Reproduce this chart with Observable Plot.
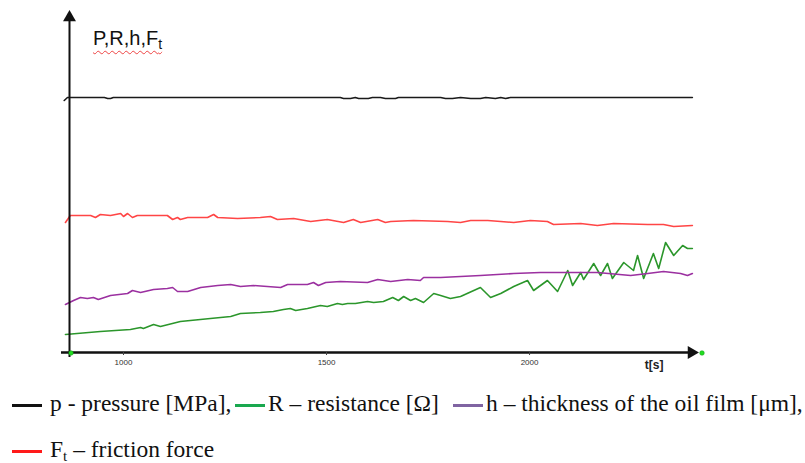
<!DOCTYPE html>
<html><head><meta charset="utf-8">
<script src="https://cdn.jsdelivr.net/npm/d3@7"></script>
<script src="https://cdn.jsdelivr.net/npm/@observablehq/plot@0.6"></script>
<style>
body{margin:0;background:#fff;}
#wrap{position:relative;width:805px;height:463px;overflow:hidden;background:#fff;}
#chart{position:absolute;left:0;top:0;}
#ylab{position:absolute;left:93px;top:27px;font:20px "Liberation Sans",Arial,sans-serif;color:#111;text-decoration:underline wavy #e44;text-decoration-thickness:1px;text-underline-offset:5px;white-space:nowrap;}
#ylab .s{font-size:14px;vertical-align:-4px;}
.leg{position:absolute;font:23.5px/24px "Liberation Serif","Times New Roman",serif;color:#111;white-space:nowrap;}
.sw{display:inline-block;width:30px;height:3px;vertical-align:middle;margin-right:7px;}
.leg .s{font-size:15px;line-height:15px;vertical-align:-4px;}
</style></head>
<body><div id="wrap"><div id="chart"></div>
<div id="ylab">P,R,h,F<span class="s">t</span></div>
</div>
<script>
// ---- data (time in s, value in arbitrary chart units) ----
const pT = [854,862,953,961,968,975,1534,1542,1559,1571,1579,1603,1613,1633,1645,1670,1677,1781,1793,1810,1830,1855,1879,1892,1916,1929,1941,1953,2401];
const pV = [252,255,255,254,254,255,255,254,254,255,254,254,255,255,254,254,255,255,254,254,255,254,254,255,254,255,254,255,255];

const fT = [857,869,919,931,943,968,993,1000,1010,1022,1034,1108,1121,1133,1140,1158,1207,1222,1232,1281,1337,1362,1379,1419,1461,1502,1542,1566,1584,1626,1645,1658,1714,1798,1830,1855,1897,1929,1961,2002,2044,2059,2126,2167,2207,2291,2330,2355,2401];
const fV = [130,137,137,135,138,137,139,136,139,135,137,137,133,135,133,135,135,138,135,134,135,136,133,134,131,133,130,133,130,133,130,131,132,131,130,132,132,131,130,132,131,128,129,127,129,128,128,126,127];

const hT = [857,877,894,911,926,938,968,1010,1022,1042,1074,1108,1121,1133,1158,1190,1232,1264,1288,1320,1387,1404,1453,1468,1480,1498,1534,1601,1626,1658,1700,1731,1739,1781,1879,1961,2027,2094,2167,2249,2291,2330,2372,2389,2401];
const hV = [48,52,55,54,55,53,57,59,62,60,63,64,65,61,61,65,67,68,66,67,65,68,68,70,67,70,71,70,73,71,73,72,75,75,77,79,80,80,80,77,79,81,79,77,79];

const rT = [857,943,1017,1042,1049,1074,1091,1140,1214,1264,1288,1337,1369,1394,1411,1424,1453,1485,1502,1527,1539,1552,1571,1601,1616,1640,1663,1677,1690,1707,1719,1739,1764,1781,1805,1830,1879,1904,1929,1961,1995,2010,2027,2044,2069,2094,2106,2126,2133,2158,2175,2192,2204,2232,2256,2266,2281,2305,2318,2335,2355,2377,2389,2401];
const rV = [18,21,23,25,24,28,26,31,34,36,39,40,41,43,44,42,44,47,46,49,48,49,49,51,50,51,55,52,56,52,54,50,59,57,54,56,65,55,59,66,72,62,67,72,61,82,67,80,73,89,77,89,74,90,82,97,74,99,84,110,97,107,104,104];

const xTicks = [1000, 1500, 2000];
const xDomain = [867, 2421];
const yDomain = [0, 340];

const legendLabels = ["p - pressure [MPa],", "R \u2013 resistance [\u03A9]", "h \u2013 thickness of the oil film [\u03BCm],", "F|t| \u2013 friction force"];
const legendColors = ["#111111", "#1aa84f", "#8064a2", "#ff1a1a"];
const lineColors = ["#1a1a1a", "#2b962b", "#9b30a0", "#ff4545"];

// ---- build ----
const toRows = (T, V) => T.map((t, i) => ({t, v: V[i]}));
const series = [toRows(pT, pV), toRows(rT, rV), toRows(hT, hV), toRows(fT, fV)];

const axisCol = "#111";
const chart = Plot.plot({
  width: 805, height: 375,
  marginLeft: 69, marginRight: 105, marginTop: 12, marginBottom: 23,
  x: {domain: xDomain, axis: null},
  y: {domain: yDomain, axis: null},
  style: {background: "transparent", overflow: "visible"},
  marks: [
    ...series.map((s, i) => Plot.line(s, {x: "t", y: "v", stroke: lineColors[i], strokeWidth: 1.6, strokeLinejoin: "round"})),
    Plot.ruleX([{x: xDomain[0], y1: yDomain[0], y2: yDomain[1]}], {x: "x", y1: "y1", y2: "y2", stroke: axisCol, strokeWidth: 2, dy: 5}),
    Plot.ruleY([{y: yDomain[0], x1: xDomain[0], x2: xDomain[1]}], {y: "y", x1: "x1", x2: "x2", stroke: axisCol, strokeWidth: 2.5, dx: -8}),
    Plot.dot([{x: xDomain[0], y: yDomain[1]}], {x: "x", y: "y", symbol: "triangle", r: 4.8, fill: axisCol, dy: 5}),
    Plot.dot([{x: xDomain[1], y: yDomain[0]}], {x: "x", y: "y", symbol: "triangle", r: 4.8, fill: axisCol, rotate: 90, dx: -9}),
    Plot.dot([{x: xDomain[0], y: yDomain[0]}, {x: xDomain[1], y: yDomain[0]}], {x: "x", y: "y", r: 2.3, fill: "#22dd22", stroke: "#119911", strokeWidth: 0.5, dx: 1.5, dy: 0.5}),
    Plot.axisX({ticks: xTicks, tickFormat: d3.format("d"), tickSize: 3, tickPadding: 4, fontSize: 8, label: null, stroke: "#444", fill: "#333", fontFamily: "Liberation Sans, Arial, sans-serif"}),
    Plot.text(["t[s]"], {frameAnchor: "bottom-right", dx: -37, dy: 16, fontSize: 12, fontWeight: "bold", fill: "#222", fontFamily: "Liberation Sans, Arial, sans-serif"})
  ]
});
document.getElementById("chart").appendChild(chart);

function legendItem(label, color, left, top, gap) {
  const el = document.createElement("div");
  el.className = "leg"; el.style.left = left + "px"; el.style.top = top + "px";
  const sw = document.createElement("span");
  sw.className = "sw"; sw.style.background = color; sw.style.marginRight = gap + "px";
  el.appendChild(sw);
  const parts = label.split("|");
  if (parts.length === 3) {
    el.appendChild(document.createTextNode(parts[0]));
    const s = document.createElement("span"); s.className = "s"; s.textContent = parts[1];
    el.appendChild(s);
    el.appendChild(document.createTextNode(parts[2]));
  } else el.appendChild(document.createTextNode(label));
  document.getElementById("wrap").appendChild(el);
}
legendItem(legendLabels[0], legendColors[0], 12, 391, 8);
legendItem(legendLabels[1], legendColors[1], 235, 391, 3);
legendItem(legendLabels[2], legendColors[2], 453, 391, 3);
legendItem(legendLabels[3], legendColors[3], 12, 437, 8);
</script>
</body></html>
